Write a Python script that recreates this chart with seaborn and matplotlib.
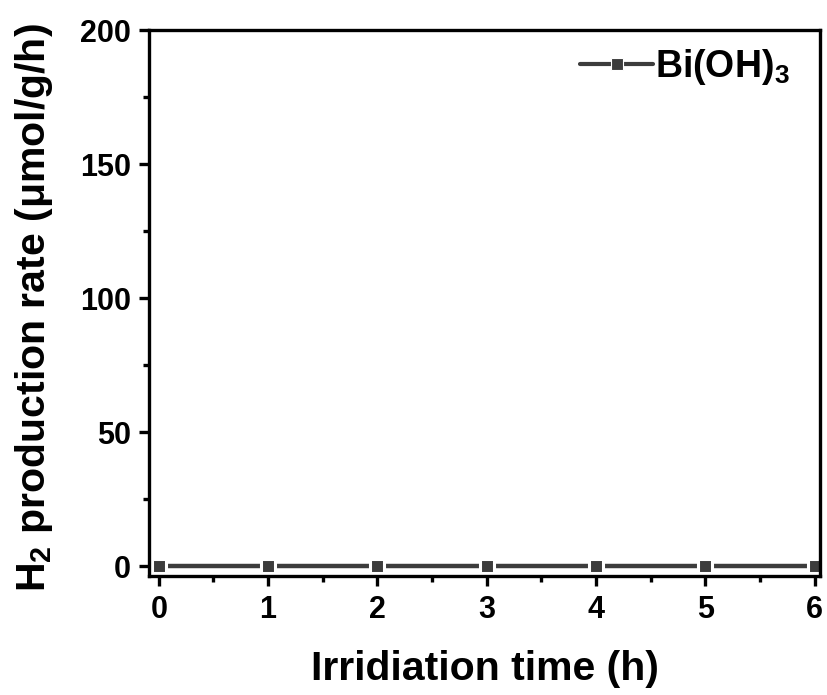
import matplotlib
matplotlib.use("Agg")
import matplotlib.pyplot as plt
import seaborn as sns
import pandas as pd
from matplotlib.ticker import MultipleLocator

time_h = [0, 1, 2, 3, 4, 5, 6]
rate = [0, 0, 0, 0, 0, 0, 0]
series_name = "Bi(OH)$_3$"

sns.set_style("ticks")
plt.rcParams['font.family'] = ['Liberation Sans', 'DejaVu Sans']
plt.rcParams['font.weight'] = 'bold'
plt.rcParams['text.color'] = 'black'
plt.rcParams['xtick.color'] = 'black'
plt.rcParams['ytick.color'] = 'black'
plt.rcParams['axes.labelcolor'] = 'black'
plt.rcParams['mathtext.fontset'] = 'custom'
plt.rcParams['mathtext.bf'] = 'Liberation Sans:bold'
plt.rcParams['mathtext.rm'] = 'Liberation Sans:bold'
plt.rcParams['mathtext.default'] = 'bf'

df = pd.DataFrame({"t": time_h, "r": rate})

fig = plt.figure(figsize=(8.28, 6.95), dpi=100)
ax = fig.add_axes([149/828, 1-576/695, (820-149)/828, (576-30)/695])
sns.lineplot(data=df, x="t", y="r", ax=ax, color="#3c3c3c", lw=3.2, marker="s",
             markersize=10.5, markeredgewidth=2.2, markeredgecolor="white",
             solid_capstyle='round', label=series_name)
ax.set_xlim(-0.09, 6.05)
ax.set_ylim(-3.7, 200)
ax.xaxis.set_major_locator(MultipleLocator(1))
ax.xaxis.set_minor_locator(MultipleLocator(0.5))
ax.yaxis.set_major_locator(MultipleLocator(50))
ax.yaxis.set_minor_locator(MultipleLocator(25))
for s in ax.spines.values():
    s.set_linewidth(2.4)
    s.set_color("black")
ax.tick_params(which='major', direction='out', length=7.5, width=2.4, labelsize=22)
ax.tick_params(axis='x', which='major', pad=6)
ax.tick_params(axis='y', which='major', pad=5.5)
ax.tick_params(which='minor', direction='out', length=4, width=2.4)
for lab in ax.get_xticklabels() + ax.get_yticklabels():
    lab.set_fontweight('bold')
ax.set_xlabel("Irridiation time (h)", fontsize=29.5, fontweight='bold', labelpad=18)
ax.set_ylabel("H$_2$ production rate (μmol/g/h)", fontsize=29.5, fontweight='bold')
ax.yaxis.set_label_coords(-0.14, 0.491)
leg = ax.legend(loc='center right', bbox_to_anchor=(0.955, 0.932), frameon=False,
                fontsize=27, handlelength=1.95, handletextpad=0.05,
                borderaxespad=0, borderpad=0)
for h in leg.legend_handles:
    h.set_markersize(8)
    h.set_markeredgewidth(0.8)
    h.set_linewidth(3)
fig.savefig("out.png", dpi=100)
